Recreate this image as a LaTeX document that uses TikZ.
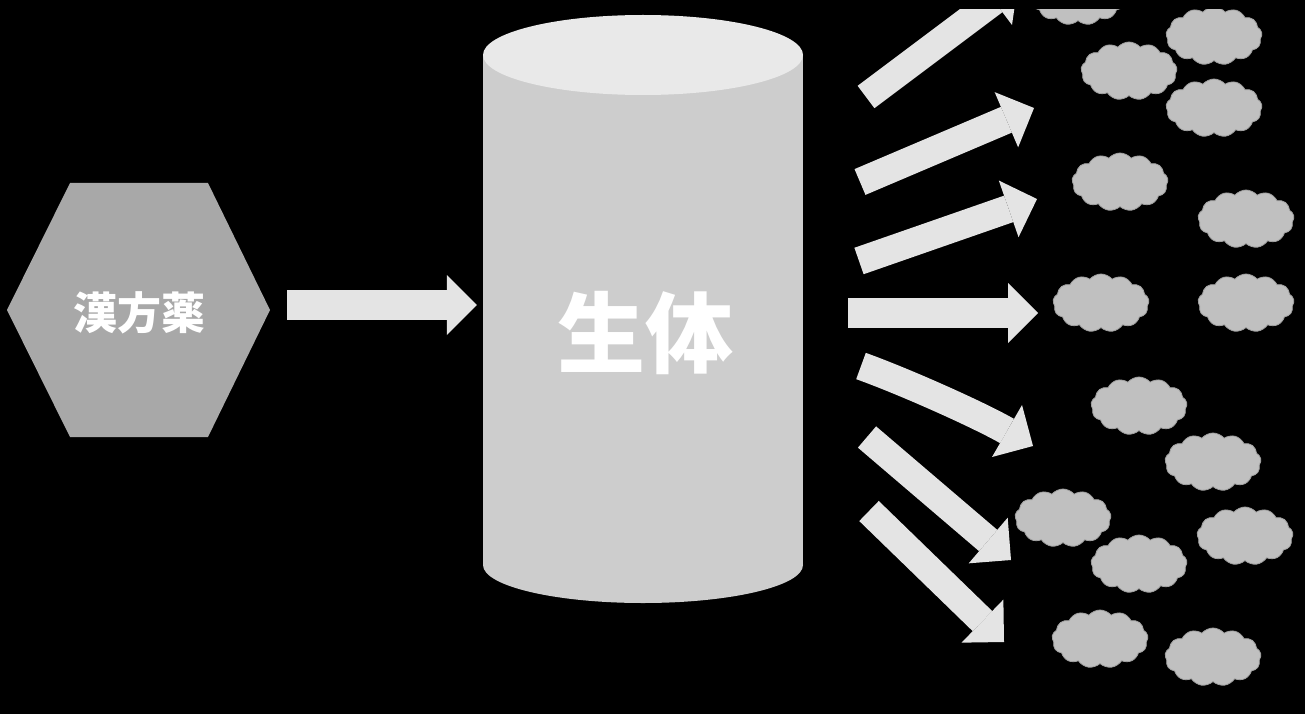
\documentclass[tikz,border=0pt]{standalone}
\usepackage{fontspec}
\newfontfamily\cjk{Noto Sans CJK JP}
\usetikzlibrary{shapes.symbols,arrows.meta,calc}
\definecolor{arrowgray}{HTML}{E4E4E4}
\definecolor{cloudgray}{HTML}{C0C0C0}
\definecolor{cloudedge}{HTML}{A0A0A0}
\definecolor{hexgray}{HTML}{A8A8A8}
\definecolor{cylbody}{HTML}{CDCDCD}
\definecolor{cyltop}{HTML}{E9E9E9}
\begin{document}
\begin{tikzpicture}[x=1pt,y=-1pt,
  fat/.style={draw=arrowgray, line width=28pt,
    -{Triangle[length=30pt 0 0,width=60pt 0 0,line width=0pt 0 0]}},
  puff/.style={cloud, cloud puffs=13, cloud puff arc=100, cloud ignores aspect,
    minimum width=96pt, minimum height=58pt, inner sep=0pt,
    fill=cloudgray, draw=cloudedge, line width=0.8pt},
  bigtext/.style={text=white, inner sep=0pt},
]
\useasboundingbox (0,0) rectangle (1305,714);
\fill[black] (0,0) rectangle (1305,714);
\begin{scope}
\clip (0,10) rectangle (1305,714);
% hexagon
\fill[hexgray] (7,310) -- (70,183) -- (208,183) -- (270,310) -- (208,437) -- (70,437) -- cycle;
\node[minimum width=263pt, minimum height=254pt, inner sep=0pt] (herb) at (138.5,310) {};
\node[bigtext, font=\cjk\bfseries\fontsize{44}{44}\selectfont] (herbtext) at (139,313) {漢方薬};
% cylinder
\fill[cylbody] (483,54) rectangle (803,565);
\fill[cylbody] (643,565) ellipse [x radius=160pt, y radius=38pt];
\fill[cyltop] (643,55) ellipse [x radius=160pt, y radius=40pt];
\node[minimum width=320pt, minimum height=510pt, inner sep=0pt] (body) at (643,310) {};
\node[bigtext, font=\cjk\bfseries\fontsize{88}{88}\selectfont] (bodytext) at (645,333) {生体};
% clouds
\node[puff] (c1) at (1078,-4) {};
\node[puff] (c2) at (1214,36) {};
\node[puff] (c3) at (1129,71) {};
\node[puff] (c4) at (1214,108) {};
\node[puff] (c5) at (1120,182) {};
\node[puff] (c6) at (1246,219) {};
\node[puff] (c7) at (1101,303) {};
\node[puff] (c8) at (1246,303) {};
\node[puff] (d1) at (1139,406) {};
\node[puff] (d2) at (1213,462) {};
\node[puff] (d3) at (1063,518) {};
\node[puff] (d4) at (1245,536) {};
\node[puff] (d5) at (1139,564) {};
\node[puff] (d6) at (1100,639) {};
\node[puff] (d7) at (1213,657) {};
% arrow ends
\coordinate (t1) at (866,97);  \coordinate (e1) at (1018,-17);
\coordinate (t2) at (860,182); \coordinate (e2) at (1034,108);
\coordinate (t3) at (859,261); \coordinate (e3) at (1037,199);
\coordinate (t4) at (848,313); \coordinate (e4) at (1038,313);
\coordinate (t5) at (861,366); \coordinate (e5) at (1033,446);
\coordinate (t6) at (867,437); \coordinate (e6) at (1011,560);
\coordinate (t7) at (869,511); \coordinate (e7) at (1004,642);
% connectors
\draw[fat, line width=30pt] ($(herb.east)+(17,-5)$) -- ($(body.west)+(-6,-5)$);
\draw[fat] (t1) -- (e1);
\draw[fat] (t2) -- (e2);
\draw[fat] (t3) -- (e3);
\draw[fat, line width=30pt] (t4) -- (e4);
\draw[fat] (t5) .. controls (908,383) and (981,416) .. (e5);
\draw[fat] (t6) -- (e6);
\draw[fat] (t7) -- (e7);
\end{scope}
\end{tikzpicture}
\end{document}
